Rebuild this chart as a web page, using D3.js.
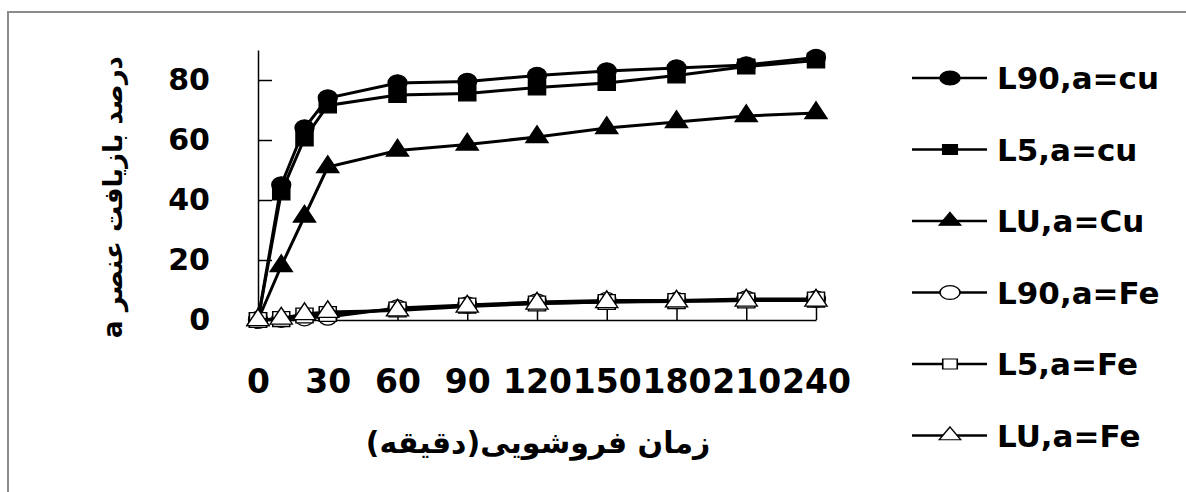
<!DOCTYPE html>
<html>
<head>
<meta charset="utf-8">
<script src="https://cdn.jsdelivr.net/npm/d3@7"></script>
<style>
  body { margin: 0; background: #fff; }
  svg { display: block; }
</style>
</head>
<body>
<div class="chart"></div>
<script>
// time of leaching (min)
var times = [0, 10, 20, 30, 60, 90, 120, 150, 180, 210, 240];
var xTicks = [0, 30, 60, 90, 120, 150, 180, 210, 240];
var yTicks = [0, 20, 40, 60, 80];

var seriesNames = ['L90,a=cu', 'L5,a=cu', 'LU,a=Cu', 'L90,a=Fe', 'L5,a=Fe', 'LU,a=Fe'];

// recovery percent
var l90Cu = [0, 45, 64, 74, 79, 79.5, 81.5, 83, 84, 85, 87.5];
var l5Cu = [0, 42.5, 60.5, 71.5, 75, 75.5, 77.5, 79, 81.5, 84.5, 86.5];
var luCu = [0, 18, 34.5, 51, 56.5, 58.5, 61, 64, 66, 68, 69];
var l90Fe = [0, 0.3, 0.8, 1, 4, 5, 6, 6.5, 6.5, 7, 7];
var l5Fe = [0, 0.3, 1.5, 2, 3.5, 4.8, 5.5, 6, 6.3, 6.5, 6.8];
var luFe = [0, 0.5, 2, 2.7, 3.2, 4.5, 5.5, 6, 6.2, 6.5, 6.5];

var xTitle = 'زمان فروشویی(دقیقه)';
var yTitle = 'درصد بازیافت عنصر a';

var allValues = [l90Cu, l5Cu, luCu, l90Fe, l5Fe, luFe];
var shapes = [d3.symbolCircle, d3.symbolSquare, d3.symbolTriangle,
              d3.symbolCircle, d3.symbolSquare, d3.symbolTriangle];
var filled = [true, true, true, false, false, false];

var series = seriesNames.map((name, i) => ({
  name: name,
  shape: shapes[i],
  filled: filled[i],
  points: times.map((t, j) => ({ t: t, v: allValues[i][j] }))
}));

var W = 1186, H = 492;
var plot = { left: 258, right: 816, top: 50, bottom: 320 };
var font = '"DejaVu Sans", sans-serif';

var svg = d3.select('.chart')
  .append('svg')
    .attr('width', W)
    .attr('height', H);

// chart area border (only top and left fall inside the picture)
svg.append('rect')
  .attr('x', 8).attr('y', 12)
  .attr('width', 1300).attr('height', 600)
  .attr('fill', 'none')
  .attr('stroke', '#8c8c8c')
  .attr('stroke-width', 2);

var xScale = d3.scaleLinear()
  .domain([0, 240])
  .range([plot.left, plot.right]);

var yScale = d3.scaleLinear()
  .domain([0, 90])
  .range([plot.bottom, plot.top]);

var yAxis = d3.axisLeft(yScale)
  .tickValues(yTicks)
  .tickSizeInner(-14)
  .tickSizeOuter(0)
  .tickPadding(48);

var xAxis = d3.axisBottom(xScale)
  .tickValues(xTicks)
  .tickSizeInner(-13)
  .tickSizeOuter(0)
  .tickPadding(50);

var gy = svg.append('g')
  .attr('transform', `translate(${plot.left}, 0)`)
  .call(yAxis);

var gx = svg.append('g')
  .attr('transform', `translate(0, ${plot.bottom})`)
  .call(xAxis);

[gx, gy].forEach(g => {
  g.select('.domain').attr('stroke', '#000').attr('stroke-width', 1.5);
  g.selectAll('.tick line').attr('stroke', '#000').attr('stroke-width', 1.5);
  g.selectAll('.tick text')
    .attr('fill', '#000')
    .style('font-family', font)
    .style('font-weight', 'bold');
});
gy.selectAll('.tick text').style('font-size', '30px');
gx.selectAll('.tick text').style('font-size', '33px');

// lines and markers
var line = d3.line()
  .x(d => xScale(d.t))
  .y(d => yScale(d.v));

var groups = svg.selectAll('.series')
  .data(series)
  .enter()
  .append('g')
    .attr('class', 'series');

groups.append('path')
  .attr('d', d => line(d.points))
  .attr('fill', 'none')
  .attr('stroke', '#000')
  .attr('stroke-width', 3);

function markerSize(shape) {
  if (shape === d3.symbolCircle) return 210;
  if (shape === d3.symbolSquare) return 220;
  return 160;
}

groups.each(function (s) {
  d3.select(this).selectAll('path.mark')
    .data(s.points)
    .enter()
    .append('path')
      .attr('class', 'mark')
      .attr('d', d3.symbol().type(s.shape).size(markerSize(s.shape)))
      .attr('transform', d => `translate(${xScale(d.t)}, ${yScale(d.v)}) scale(1.15, 1)`)
      .attr('fill', s.filled ? '#000' : '#fff')
      .attr('stroke', '#000')
      .attr('stroke-width', 1.3);
});

// legend
var legend = svg.append('g')
  .attr('transform', 'translate(912, 78)');

var items = legend.selectAll('g')
  .data(series)
  .enter()
  .append('g')
    .attr('transform', (d, i) => `translate(0, ${i * 71.5})`);

items.append('line')
  .attr('x1', 0).attr('x2', 75)
  .attr('stroke', '#000')
  .attr('stroke-width', 2.5);

items.append('path')
  .attr('d', d => d3.symbol().type(d.shape)
    .size(d.shape === d3.symbolCircle ? 150 : d.shape === d3.symbolSquare ? 100 : 95)())
  .attr('transform', 'translate(38, 0) scale(1.45, 1)')
  .attr('fill', d => d.filled ? '#000' : '#fff')
  .attr('stroke', '#000')
  .attr('stroke-width', 1.1);

items.append('text')
  .attr('x', 85)
  .attr('dy', '0.36em')
  .style('font-family', font)
  .style('font-weight', 'bold')
  .style('font-size', '31px')
  .text(d => d.name);

// axis titles
svg.append('text')
  .attr('x', 538)
  .attr('y', 442)
  .attr('dy', '0.35em')
  .attr('text-anchor', 'middle')
  .attr('direction', 'rtl')
  .style('font-family', font)
  .style('font-weight', 'bold')
  .style('font-size', '30px')
  .text(xTitle);

svg.append('text')
  .attr('transform', 'translate(113, 197) rotate(-90)')
  .attr('dy', '0.35em')
  .attr('text-anchor', 'middle')
  .attr('direction', 'rtl')
  .style('font-family', font)
  .style('font-weight', 'bold')
  .style('font-size', '26px')
  .text(yTitle);
</script>
</body>
</html>
